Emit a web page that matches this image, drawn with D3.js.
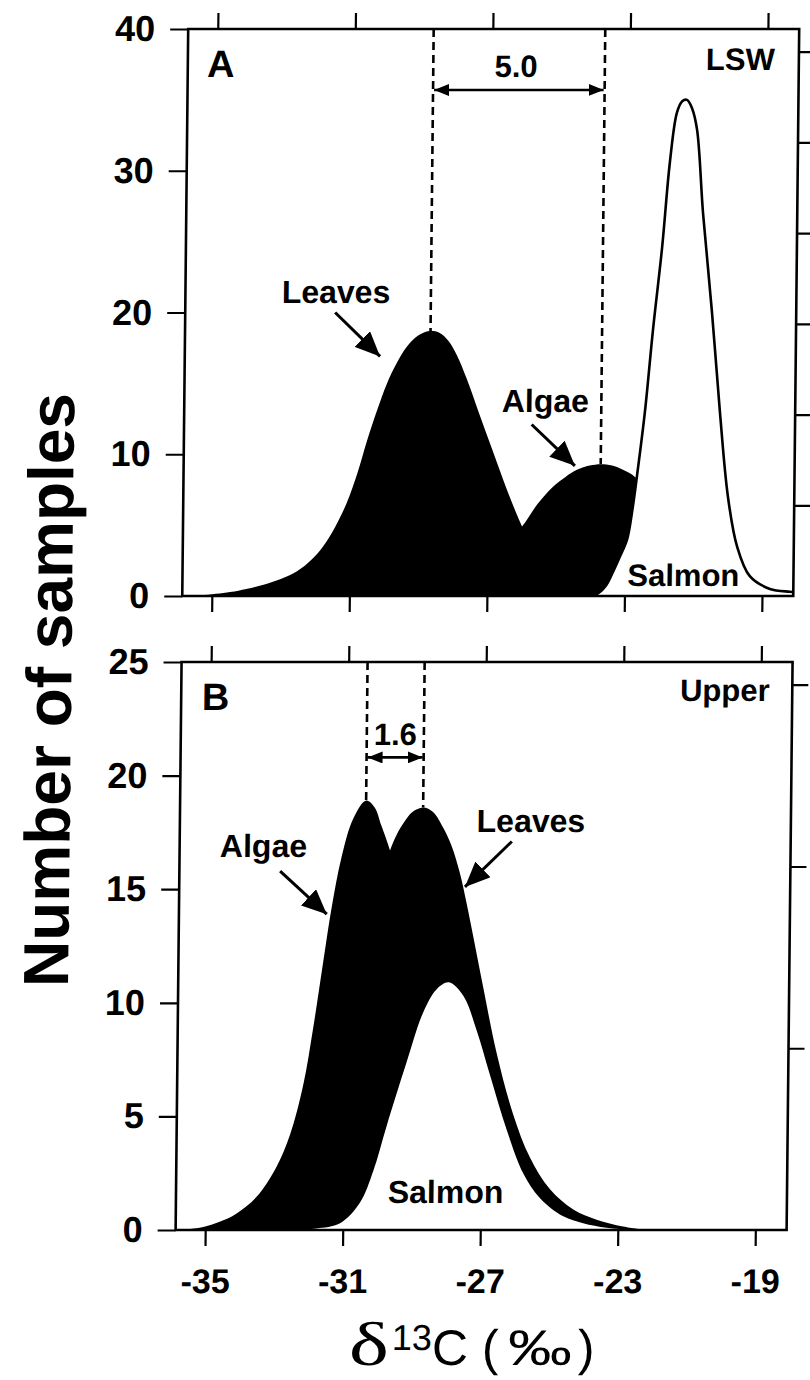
<!DOCTYPE html>
<html><head><meta charset="utf-8">
<script src="https://cdn.jsdelivr.net/npm/d3@7"></script>
<style>html,body{margin:0;padding:0;background:#fff;} svg{display:block;}</style>
</head><body>
<script>
// ---------- data ----------
const X_TICKS = [-35, -31, -27, -23, -19];
const Y_TICKS_A = [0, 10, 20, 30, 40];
const Y_TICKS_B = [0, 5, 10, 15, 20, 25];
const RIGHT_TICKS_A = [4, 8, 12, 16, 20, 24];
const RIGHT_TICKS_B = [4, 8, 12];

// Panel A (LSW): [d13C, number of samples]
const leavesA = [[-35.86,0],[-35.3,0.05],[-34.47,0.28],[-34.0,0.5],[-33.5,0.8],[-33.0,1.2],[-32.53,1.75],[-32.1,2.6],[-31.78,3.5],[-31.45,4.8],[-31.10,6.6],[-30.8,8.7],[-30.54,10.9],[-30.25,13.1],[-29.97,15.0],[-29.7,16.4],[-29.40,17.6],[-29.1,18.35],[-28.75,18.7],[-28.45,18.55],[-28.2,18.0],[-27.95,17.0],[-27.65,15.3],[-27.3,13.0],[-26.9,10.4],[-26.45,7.5],[-26.0,4.9],[-25.6,3.0],[-25.1,1.4],[-24.5,0.4],[-23.8,0]];
const algaeA = [[-28.8,0],[-28.0,0.6],[-27.3,1.8],[-26.6,3.4],[-26.0,4.9],[-25.55,6.5],[-25.11,7.7],[-24.75,8.4],[-24.42,8.9],[-24.05,9.2],[-23.73,9.3],[-23.4,9.2],[-23.08,8.9],[-22.73,8.4],[-22.3,7.2],[-21.9,5.2],[-21.5,3.0],[-21.0,1.2],[-20.5,0.3],[-20.0,0]];
const salmonA = [[-25.0,0],[-24.3,0.03],[-23.8,0.14],[-23.55,0.7],[-23.34,1.7],[-23.14,2.8],[-22.94,4.0],[-22.8,6.0],[-22.67,8.5],[-22.46,13.0],[-22.25,18.8],[-22.01,24.6],[-21.81,30.6],[-21.62,34.1],[-21.47,34.9],[-21.33,35.0],[-21.18,34.4],[-21.03,32.9],[-20.83,27.0],[-20.54,20.0],[-20.28,13.0],[-20.02,7.0],[-19.74,3.5],[-19.36,1.4],[-18.77,0.5],[-18.19,0.3],[-17.9,0.25]];

// Panel B (Upper)
const algaeB = [[-35.86,0],[-35.5,0.03],[-35.0,0.15],[-34.6,0.35],[-34.09,0.73],[-33.51,1.47],[-32.94,2.8],[-32.56,4.2],[-32.19,6.4],[-31.92,8.9],[-31.65,11.8],[-31.42,14.2],[-31.15,16.4],[-30.82,18.1],[-30.45,18.9],[-30.2,18.6],[-30.0,17.8],[-29.74,16.7],[-29.4,14.8],[-29.0,12.3],[-28.5,9.0],[-28.0,6.0],[-27.4,3.5],[-26.7,1.6],[-26.0,0.5],[-25.2,0]];
const leavesB = [[-34.5,0],[-33.5,0.5],[-32.8,1.3],[-32.2,2.7],[-31.5,5.5],[-30.9,9.5],[-30.4,13.0],[-30.05,15.0],[-29.74,16.7],[-29.55,17.4],[-29.36,17.9],[-29.1,18.4],[-28.79,18.6],[-28.5,18.4],[-28.2,17.7],[-27.95,16.9],[-27.70,15.7],[-27.5,14.4],[-27.29,12.9],[-26.99,10.7],[-26.58,7.8],[-26.08,5.1],[-25.58,3.2],[-24.99,1.8],[-24.30,0.9],[-23.62,0.45],[-22.85,0.15],[-22.2,0]];
const salmonB = [[-33.0,0],[-32.3,0.02],[-31.76,0.07],[-31.08,0.3],[-30.51,1.2],[-30.13,2.6],[-29.75,4.6],[-29.19,7.4],[-28.72,9.6],[-28.34,10.6],[-27.99,10.9],[-27.56,10.3],[-27.17,8.8],[-26.76,6.8],[-26.26,4.4],[-25.77,2.5],[-25.27,1.4],[-24.59,0.6],[-24.01,0.3],[-23.33,0.1],[-22.6,0.02],[-22.0,0]];

// Peak positions marked with dashed lines
const peaksA = [[-28.72, 18.7], [-23.73, 9.3]];
const peaksB = [[-30.45, 18.9], [-28.79, 18.6]];

// ---------- layout ----------
const W = 810, H = 1380;
const FONT = "'Liberation Sans', Arial, Helvetica, sans-serif";
const svg = d3.select('body').append('svg').attr('width', W).attr('height', H);
const defs = svg.append('defs');
// the scanned figure is slightly sheared
const root = svg.append('g').attr('transform', 'skewX(-0.6)');

defs.append('marker').attr('id', 'mhead').attr('markerUnits', 'userSpaceOnUse')
  .attr('markerWidth', 16).attr('markerHeight', 12).attr('refX', 15).attr('refY', 6)
  .attr('orient', 'auto-start-reverse')
  .append('path').attr('d', 'M0,0 L15,6 L0,12 Z').attr('fill', '#000');
defs.append('marker').attr('id', 'bhead').attr('markerUnits', 'userSpaceOnUse')
  .attr('markerWidth', 26).attr('markerHeight', 22).attr('refX', 25).attr('refY', 11)
  .attr('orient', 'auto')
  .append('path').attr('d', 'M0,0 L25,11 L0,22 Z').attr('fill', '#000');

const x = d3.scaleLinear().domain([-35.86, -18.09]).range([188.5, 799.5]);

const panels = [
  { id: 'A', top: 29, bottom: 596, yDomain: [0, 40], yTicks: Y_TICKS_A,
    rDomain: [0, 25], rTicks: RIGHT_TICKS_A, xLabels: false,
    series: [
      { data: leavesA, fill: '#000' },
      { data: algaeA, fill: '#000' },
      { data: salmonA, fill: '#fff', stroke: true }
    ],
    peaks: peaksA, measureV: 35.7,
    labels: [
      { t: 'A', x: -35.3, v: 36.6, a: 'start', s: 38 },
      { t: 'LSW', x: -18.79, v: 37.1, a: 'end', s: 31 },
      { t: '5.0', x: -26.31, v: 36.6, a: 'middle', s: 31 },
      { t: 'Leaves', x: -31.48, v: 20.7, a: 'middle', s: 32 },
      { t: 'Algae', x: -25.36, v: 13.0, a: 'middle', s: 32 },
      { t: 'Salmon', x: -21.29, v: 0.7, a: 'middle', s: 31 }
    ],
    arrows: [ [[-31.5, 20.0], [-30.18, 16.9]], [[-25.75, 12.1], [-24.48, 9.18]] ]
  },
  { id: 'B', top: 662, bottom: 1230, yDomain: [0, 25], yTicks: Y_TICKS_B,
    rDomain: [0, 12.5], rTicks: RIGHT_TICKS_B, xLabels: true,
    series: [
      { data: algaeB, fill: '#000' },
      { data: leavesB, fill: '#000' },
      { data: salmonB, fill: '#fff' }
    ],
    peaks: peaksB, measureV: 20.8,
    labels: [
      { t: 'B', x: -35.26, v: 22.9, a: 'start', s: 38 },
      { t: 'Upper', x: -18.75, v: 23.3, a: 'end', s: 31 },
      { t: '1.6', x: -29.62, v: 21.35, a: 'middle', s: 31 },
      { t: 'Algae', x: -33.42, v: 16.4, a: 'middle', s: 32 },
      { t: 'Leaves', x: -25.65, v: 17.5, a: 'middle', s: 32 },
      { t: 'Salmon', x: -28.02, v: 1.2, a: 'middle', s: 32 }
    ],
    arrows: [ [[-32.93, 15.8], [-31.56, 13.9]], [[-26.2, 17.1], [-27.55, 15.1]] ]
  }
];

function styleAxis(g) {
  g.select('.domain').remove();
  g.selectAll('.tick line').attr('stroke', '#000').attr('stroke-width', 2.2);
  g.selectAll('text').attr('fill', '#000').attr('font-family', FONT).attr('font-weight', 'bold');
}
const fmt = d => String(d);

panels.forEach(p => {
  const y = d3.scaleLinear().domain(p.yDomain).range([p.bottom, p.top]);
  const yr = d3.scaleLinear().domain(p.rDomain).range([p.bottom, p.top]);
  const g = root.append('g');
  const [x0, x1] = x.range();

  defs.append('clipPath').attr('id', 'clip' + p.id).append('rect')
    .attr('x', x0).attr('y', p.top).attr('width', x1 - x0).attr('height', p.bottom - p.top);

  const curve = d3.curveCatmullRom.alpha(0.5);
  const area = d3.area().x(d => x(d[0])).y0(y(0)).y1(d => y(Math.max(0, d[1]))).curve(curve);
  const line = d3.line().x(d => x(d[0])).y(d => y(d[1])).curve(curve);

  const plot = g.append('g').attr('clip-path', `url(#clip${p.id})`);
  p.series.forEach(s => {
    plot.append('path').datum(s.data).attr('d', area).attr('fill', s.fill);
    if (s.stroke) plot.append('path').datum(s.data).attr('d', line)
      .attr('fill', 'none').attr('stroke', '#000').attr('stroke-width', 2.6);
  });

  // dashed peak lines
  p.peaks.forEach(pk => {
    g.append('line').attr('x1', x(pk[0])).attr('x2', x(pk[0]))
      .attr('y1', y(p.yDomain[1])).attr('y2', y(pk[1]))
      .attr('stroke', '#000').attr('stroke-width', 2.6).attr('stroke-dasharray', '8,5');
  });
  // measurement double arrow
  g.append('line').attr('x1', x(p.peaks[0][0]) + 1).attr('x2', x(p.peaks[1][0]) - 1)
    .attr('y1', y(p.measureV)).attr('y2', y(p.measureV))
    .attr('stroke', '#000').attr('stroke-width', 2.6)
    .attr('marker-start', 'url(#mhead)').attr('marker-end', 'url(#mhead)');

  // pointer arrows
  p.arrows.forEach(a => {
    g.append('line').attr('x1', x(a[0][0])).attr('y1', y(a[0][1]))
      .attr('x2', x(a[1][0])).attr('y2', y(a[1][1]))
      .attr('stroke', '#000').attr('stroke-width', 3).attr('marker-end', 'url(#bhead)');
  });

  // labels
  p.labels.forEach(l => {
    g.append('text').attr('x', x(l.x)).attr('y', y(l.v)).attr('text-anchor', l.a)
      .attr('font-family', FONT).attr('font-weight', 'bold').attr('font-size', l.s)
      .attr('fill', '#000').text(l.t);
  });

  // axes
  const left = g.append('g').attr('transform', `translate(${x0},0)`)
    .call(d3.axisLeft(y).tickValues(p.yTicks).tickSize(18).tickPadding(15).tickFormat(fmt));
  styleAxis(left);
  left.selectAll('text').attr('font-size', 36);

  const top = g.append('g').attr('transform', `translate(0,${p.top})`)
    .call(d3.axisTop(x).tickValues(X_TICKS).tickSize(16).tickFormat(''));
  styleAxis(top);

  const bottom = g.append('g').attr('transform', `translate(0,${p.bottom})`)
    .call(d3.axisBottom(x).tickValues(X_TICKS).tickSize(16)
      .tickFormat(p.xLabels ? fmt : ''));
  styleAxis(bottom);
  bottom.selectAll('text').attr('font-size', 34).attr('y', 63).attr('dy', '0');

  const right = g.append('g').attr('transform', `translate(${x1},0)`)
    .call(d3.axisRight(yr).tickValues(p.rTicks).tickSize(16).tickFormat(''));
  styleAxis(right);

  g.append('rect').attr('x', x0).attr('y', p.top).attr('width', x1 - x0).attr('height', p.bottom - p.top)
    .attr('fill', 'none').attr('stroke', '#000').attr('stroke-width', 2.6);
});

// axis titles
root.append('text')
  .attr('transform', 'translate(56,690) rotate(-90)')
  .attr('text-anchor', 'middle').attr('dy', '0.35em')
  .attr('font-family', FONT).attr('font-weight', 'bold').attr('font-size', 64)
  .attr('fill', '#000').text('Number of samples');

const xt = root.append('g').attr('fill', '#000');
xt.append('text').attr('x', 363).attr('y', 1365)
  .attr('font-family', "'Liberation Serif', 'Times New Roman', serif").attr('font-size', 62)
  .attr('textLength', 40).attr('lengthAdjust', 'spacingAndGlyphs').text('δ');
xt.append('text').attr('x', 406).attr('y', 1350)
  .attr('font-family', FONT).attr('font-size', 36).text('13');
xt.append('text').attr('x', 446).attr('y', 1365)
  .attr('font-family', FONT).attr('font-size', 50).text('C (');
xt.append('text').attr('x', 522).attr('y', 1365)
  .attr('font-family', FONT).attr('font-size', 50)
  .attr('textLength', 64).attr('lengthAdjust', 'spacingAndGlyphs').text('‰');
xt.append('text').attr('x', 592).attr('y', 1365)
  .attr('font-family', FONT).attr('font-size', 50).text(')');
</script>
</body></html>
